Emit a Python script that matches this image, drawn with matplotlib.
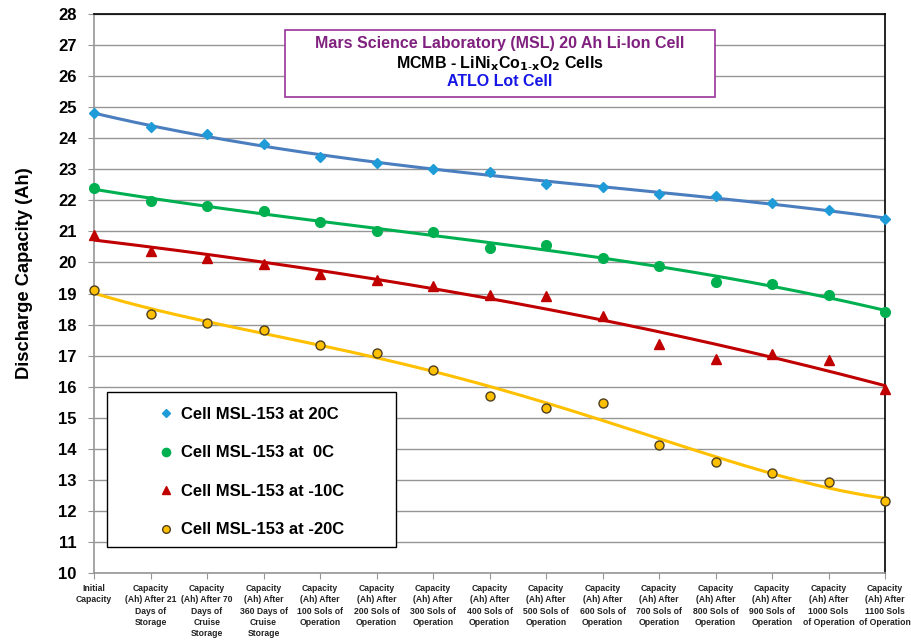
import numpy as np
import matplotlib
matplotlib.use('Agg')
import matplotlib.pyplot as plt
from matplotlib.lines import Line2D

plt.rcParams['font.family'] = ['Liberation Sans', 'DejaVu Sans']

# x categories
categories = [
    "Initial\nCapacity",
    "Capacity\n(Ah) After 21\nDays of\nStorage",
    "Capacity\n(Ah) After 70\nDays of\nCruise\nStorage",
    "Capacity\n(Ah) After\n360 Days of\nCruise\nStorage",
    "Capacity\n(Ah) After\n100 Sols of\nOperation",
    "Capacity\n(Ah) After\n200 Sols of\nOperation",
    "Capacity\n(Ah) After\n300 Sols of\nOperation",
    "Capacity\n(Ah) After\n400 Sols of\nOperation",
    "Capacity\n(Ah) After\n500 Sols of\nOperation",
    "Capacity\n(Ah) After\n600 Sols of\nOperation",
    "Capacity\n(Ah) After\n700 Sols of\nOperation",
    "Capacity\n(Ah) After\n800 Sols of\nOperation",
    "Capacity\n(Ah) After\n900 Sols of\nOperation",
    "Capacity\n(Ah) After\n1000 Sols\nof Operation",
    "Capacity\n(Ah) After\n1100 Sols\nof Operation",
]

# discharge capacity (Ah) per temperature
cap_20c = [24.80, 24.36, 24.14, 23.81, 23.39, 23.20, 23.01, 22.90, 22.54, 22.42,
           22.21, 22.15, 21.90, 21.68, 21.40]
cap_0c = [22.40, 21.97, 21.83, 21.66, 21.29, 21.03, 20.97, 20.48, 20.55, 20.15,
          19.89, 19.38, 19.31, 18.95, 18.41]
cap_m10c = [20.90, 20.38, 20.15, 19.96, 19.64, 19.42, 19.25, 18.95, 18.93, 18.29,
            17.36, 16.88, 17.05, 16.85, 15.94]
cap_m20c = [19.11, 18.34, 18.06, 17.81, 17.34, 17.08, 16.54, 15.71, 15.30, 15.48,
            14.12, 13.57, 13.22, 12.92, 12.32]

labels = ["Cell MSL-153 at 20C", "Cell MSL-153 at  0C",
          "Cell MSL-153 at -10C", "Cell MSL-153 at -20C"]

x = np.arange(len(categories))

fig = plt.figure(figsize=(9.12, 6.4), dpi=100)
ax = fig.add_axes([0.1031, 0.1047, 0.8673, 0.8733])

series = [
    # data, marker, face, edge, size, trend colour, trend order
    (cap_20c, 'D', '#1F9BD7', '#1F9BD7', 5.2, '#4A7EBF', 3),
    (cap_0c, 'o', '#00B050', '#00B050', 7, '#00B050', 3),
    (cap_m10c, '^', '#C00000', '#C00000', 7, '#C00000', 3),
    (cap_m20c, 'o', '#FFC000', '#4D4020', 6.5, '#FFC000', 4),
]

xs = np.linspace(0, len(categories) - 1, 200)
handles = []
for (vals, mk, fc, ec, ms, tc, order), lab in zip(series, labels):
    coef = np.polyfit(x, vals, order)
    ax.plot(xs, np.polyval(coef, xs), color=tc, lw=2.2, zorder=3)
    ax.plot(x, vals, linestyle='none', marker=mk, ms=ms, mfc=fc, mec=ec,
            mew=1.0, zorder=4, clip_on=False)
    handles.append(Line2D([], [], linestyle='none', marker=mk, ms=ms * 0.85,
                          mfc=fc, mec=ec, mew=1.0))

ax.set_xlim(0, len(categories) - 1)
ax.set_ylim(10, 28)
ax.set_yticks(np.arange(10, 29, 1))
ax.set_xticks(x)
ax.set_xticklabels(categories, fontsize=6.2, fontweight='bold', linespacing=1.33,
                   va='top', color='#222222')
for t in ax.get_yticklabels():
    t.set_fontweight('bold')
    t.set_fontsize(12)
ax.tick_params(axis='y', length=4.5, color='#969696', pad=8)
ax.tick_params(axis='x', length=4, color='#969696', pad=4)

ax.grid(axis='y', color='#969696', lw=1.0)
ax.set_axisbelow(True)
for side in ['left', 'bottom']:
    ax.spines[side].set_color('#969696')
    ax.spines[side].set_linewidth(1.2)
for side in ['top', 'right']:
    ax.spines[side].set_color('black')
    ax.spines[side].set_linewidth(1.2)

ax.set_ylabel("Discharge Capacity (Ah)", fontsize=13.2, fontweight='bold')
ax.yaxis.set_label_coords(-0.077, 0.536)

# title box
box = plt.Rectangle((0.2415, 0.8515), 0.5436, 0.1195, transform=ax.transAxes,
                    fc='white', ec='#993399', lw=1.2, zorder=5)
ax.add_patch(box)
ax.text(0.513, 0.947, "Mars Science Laboratory (MSL) 20 Ah Li-Ion Cell",
        transform=ax.transAxes, ha='center', va='center', fontsize=11.5,
        fontweight='bold', color='#80207F', zorder=6)
ax.text(0.513, 0.912, r"MCMB - LiNi$_\mathbf{x}$Co$_\mathbf{1\text{-}x}$O$_\mathbf{2}$ Cells",
        transform=ax.transAxes, ha='center', va='center', fontsize=11.5,
        fontweight='bold', color='black', zorder=6)
ax.text(0.513, 0.879, "ATLO Lot Cell", transform=ax.transAxes, ha='center',
        va='center', fontsize=11.5, fontweight='bold', color='#1515E6', zorder=6)

# legend box drawn by hand, entries placed inside it
frame = plt.Rectangle((0.0164, 0.0465), 0.3654, 0.2773, transform=ax.transAxes,
                      fc='white', ec='black', lw=1.0, zorder=6)
ax.add_patch(frame)
leg = ax.legend(handles, labels, loc='upper left', bbox_to_anchor=(0.0759, 0.297),
                frameon=False, prop={'weight': 'bold', 'size': 12},
                labelspacing=1.41, borderpad=0, handletextpad=0.2,
                borderaxespad=0, handlelength=1.4)
leg.set_zorder(7)

fig.savefig('out.png', dpi=100)
